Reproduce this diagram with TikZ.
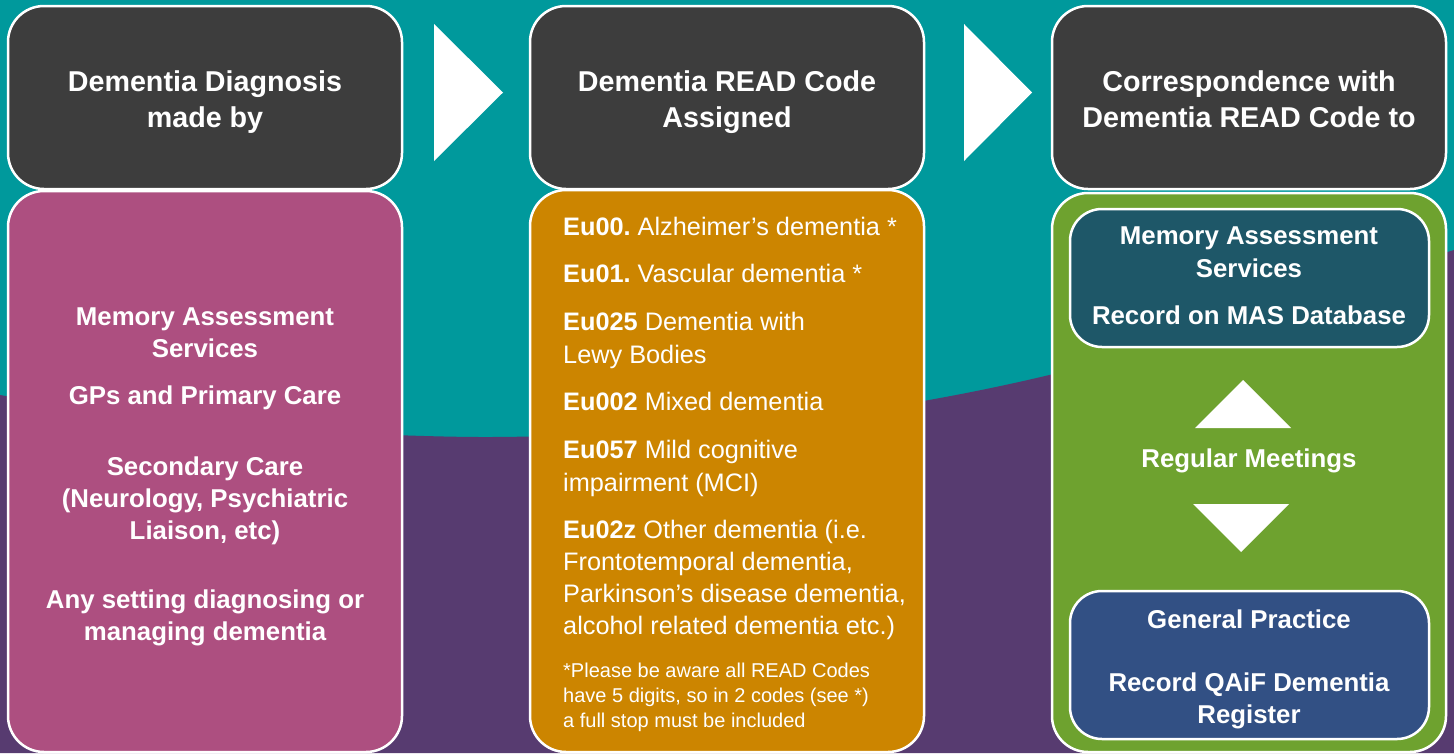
\documentclass[tikz,border=0pt]{standalone}
\usepackage{fontspec}
\setmainfont{Liberation Sans}
\definecolor{bgteal}{HTML}{00999C}
\definecolor{bgpurple}{HTML}{573B70}
\definecolor{hdr}{HTML}{3D3D3D}
\definecolor{pinkbox}{HTML}{AD4F80}
\definecolor{orangebox}{HTML}{CC8500}
\definecolor{greenbox}{HTML}{6EA22F}
\definecolor{tealbox}{HTML}{1E5768}
\definecolor{bluebox}{HTML}{325084}
\begin{document}
\begin{tikzpicture}[x=1pt,y=-1pt,
 box/.style={draw=white, line width=2.5pt, rounded corners=36pt, inner sep=0pt, minimum width=394pt},
 inbox/.style={draw=white, line width=2.5pt, rounded corners=32pt, inner sep=0pt, minimum width=359pt},
 hd/.style={text=white, font=\bfseries\fontsize{28.7}{34}\selectfont, anchor=base, inner sep=0pt},
 bd/.style={text=white, font=\bfseries\fontsize{25.8}{30}\selectfont, anchor=base, inner sep=0pt},
 cd/.style={text=white, font=\fontsize{25.3}{30}\selectfont, anchor=base west, inner sep=0pt},
 nt/.style={text=white, font=\fontsize{20}{24}\selectfont, anchor=base west, inner sep=0pt},
 tri/.style={fill=white}]
\useasboundingbox (0,0) rectangle (1454,753);
\fill[bgteal] (0,0) rectangle (1454,753);
\fill[bgpurple] plot[smooth] coordinates {(0,395) (200,424) (480,437) (750,426) (940,398) (1100,362) (1300,298) (1454,250)} -- (1454,753) -- (0,753) -- cycle;

% column 1
\node[box, fill=hdr, minimum height=183pt] (h1) at (205,97.5) {};
\node[box, fill=pinkbox, minimum height=561pt] (b1) at (205,471.5) {};
\node[hd] (h1a) at (205,91) {Dementia Diagnosis};
\node[hd] (h1b) at (205,127) {made by};
\node[bd] (t1a) at (205,325) {Memory Assessment};
\node[bd] (t1b) at (205,357) {Services};
\node[bd] (t1c) at (205,404) {GPs and Primary Care};
\node[bd] (t1d) at (205,475) {Secondary Care};
\node[bd] (t1e) at (205,507) {(Neurology, Psychiatric};
\node[bd] (t1f) at (205,539) {Liaison, etc)};
\node[bd] (t1g) at (205,608) {Any setting diagnosing or};
\node[bd] (t1h) at (205,640) {managing dementia};

% arrows between columns
\fill[tri] (434,24) -- (503,92.5) -- (434,161) -- cycle;
\fill[tri] (964,24) -- (1032,92.5) -- (964,161) -- cycle;

% column 2
\node[box, fill=hdr, minimum height=183pt] (h2) at (727,97.5) {};
\node[box, fill=orangebox, minimum height=562pt] (b2) at (727,471) {};
\node[hd] (h2a) at (727,91) {Dementia READ Code};
\node[hd] (h2b) at (727,127) {Assigned};
\node[cd] (c1) at (563,235) {\textbf{Eu00.}~Alzheimer’s dementia *};
\node[cd] (c2) at (563,282) {\textbf{Eu01.}~Vascular dementia *};
\node[cd] (c3) at (563,330) {\textbf{Eu025} Dementia with};
\node[cd] (c3b) at (563,363) {Lewy Bodies};
\node[cd] (c4) at (563,410) {\textbf{Eu002} Mixed dementia};
\node[cd] (c5) at (563,458) {\textbf{Eu057} Mild cognitive};
\node[cd] (c5b) at (563,491) {impairment (MCI)};
\node[cd] (c6) at (563,538) {\textbf{Eu02z} Other dementia (i.e.};
\node[cd] (c6b) at (563,570) {Frontotemporal dementia,};
\node[cd] (c6c) at (563,602) {Parkinson’s disease dementia,};
\node[cd] (c6d) at (563,634) {alcohol related dementia etc.)};
\node[nt] (n1) at (563,677) {*Please be aware all READ Codes};
\node[nt] (n2) at (563,702) {have 5 digits, so in 2 codes (see *)};
\node[nt] (n3) at (563,727) {a full stop must be included};

% column 3
\node[box, fill=hdr, minimum height=183pt] (h3) at (1249,97.5) {};
\node[box, fill=greenbox, minimum height=559pt] (b3) at (1249,472.5) {};
\node[hd] (h3a) at (1249,91) {Correspondence with};
\node[hd] (h3b) at (1249,127) {Dementia READ Code to};
\node[inbox, fill=tealbox, minimum height=138pt] (mas) at (1249.5,278) {};
\node[inbox, fill=bluebox, minimum height=148pt] (gp) at (1249.5,665) {};
\node[bd] (m1) at (1249,244) {Memory Assessment};
\node[bd] (m2) at (1249,277) {Services};
\node[bd] (m3) at (1249,324) {Record on MAS Database};
\node[bd] (rm) at (1249,467) {Regular Meetings};
\node[bd] (g1) at (1249,628) {General Practice};
\node[bd] (g2) at (1249,691) {Record QAiF Dementia};
\node[bd] (g3) at (1249,723) {Register};
\fill[tri] (1195,428) -- (1243,380) -- (1291,428) -- cycle;
\fill[tri] (1193,504) -- (1289,504) -- (1241,552) -- cycle;
\end{tikzpicture}
\end{document}
